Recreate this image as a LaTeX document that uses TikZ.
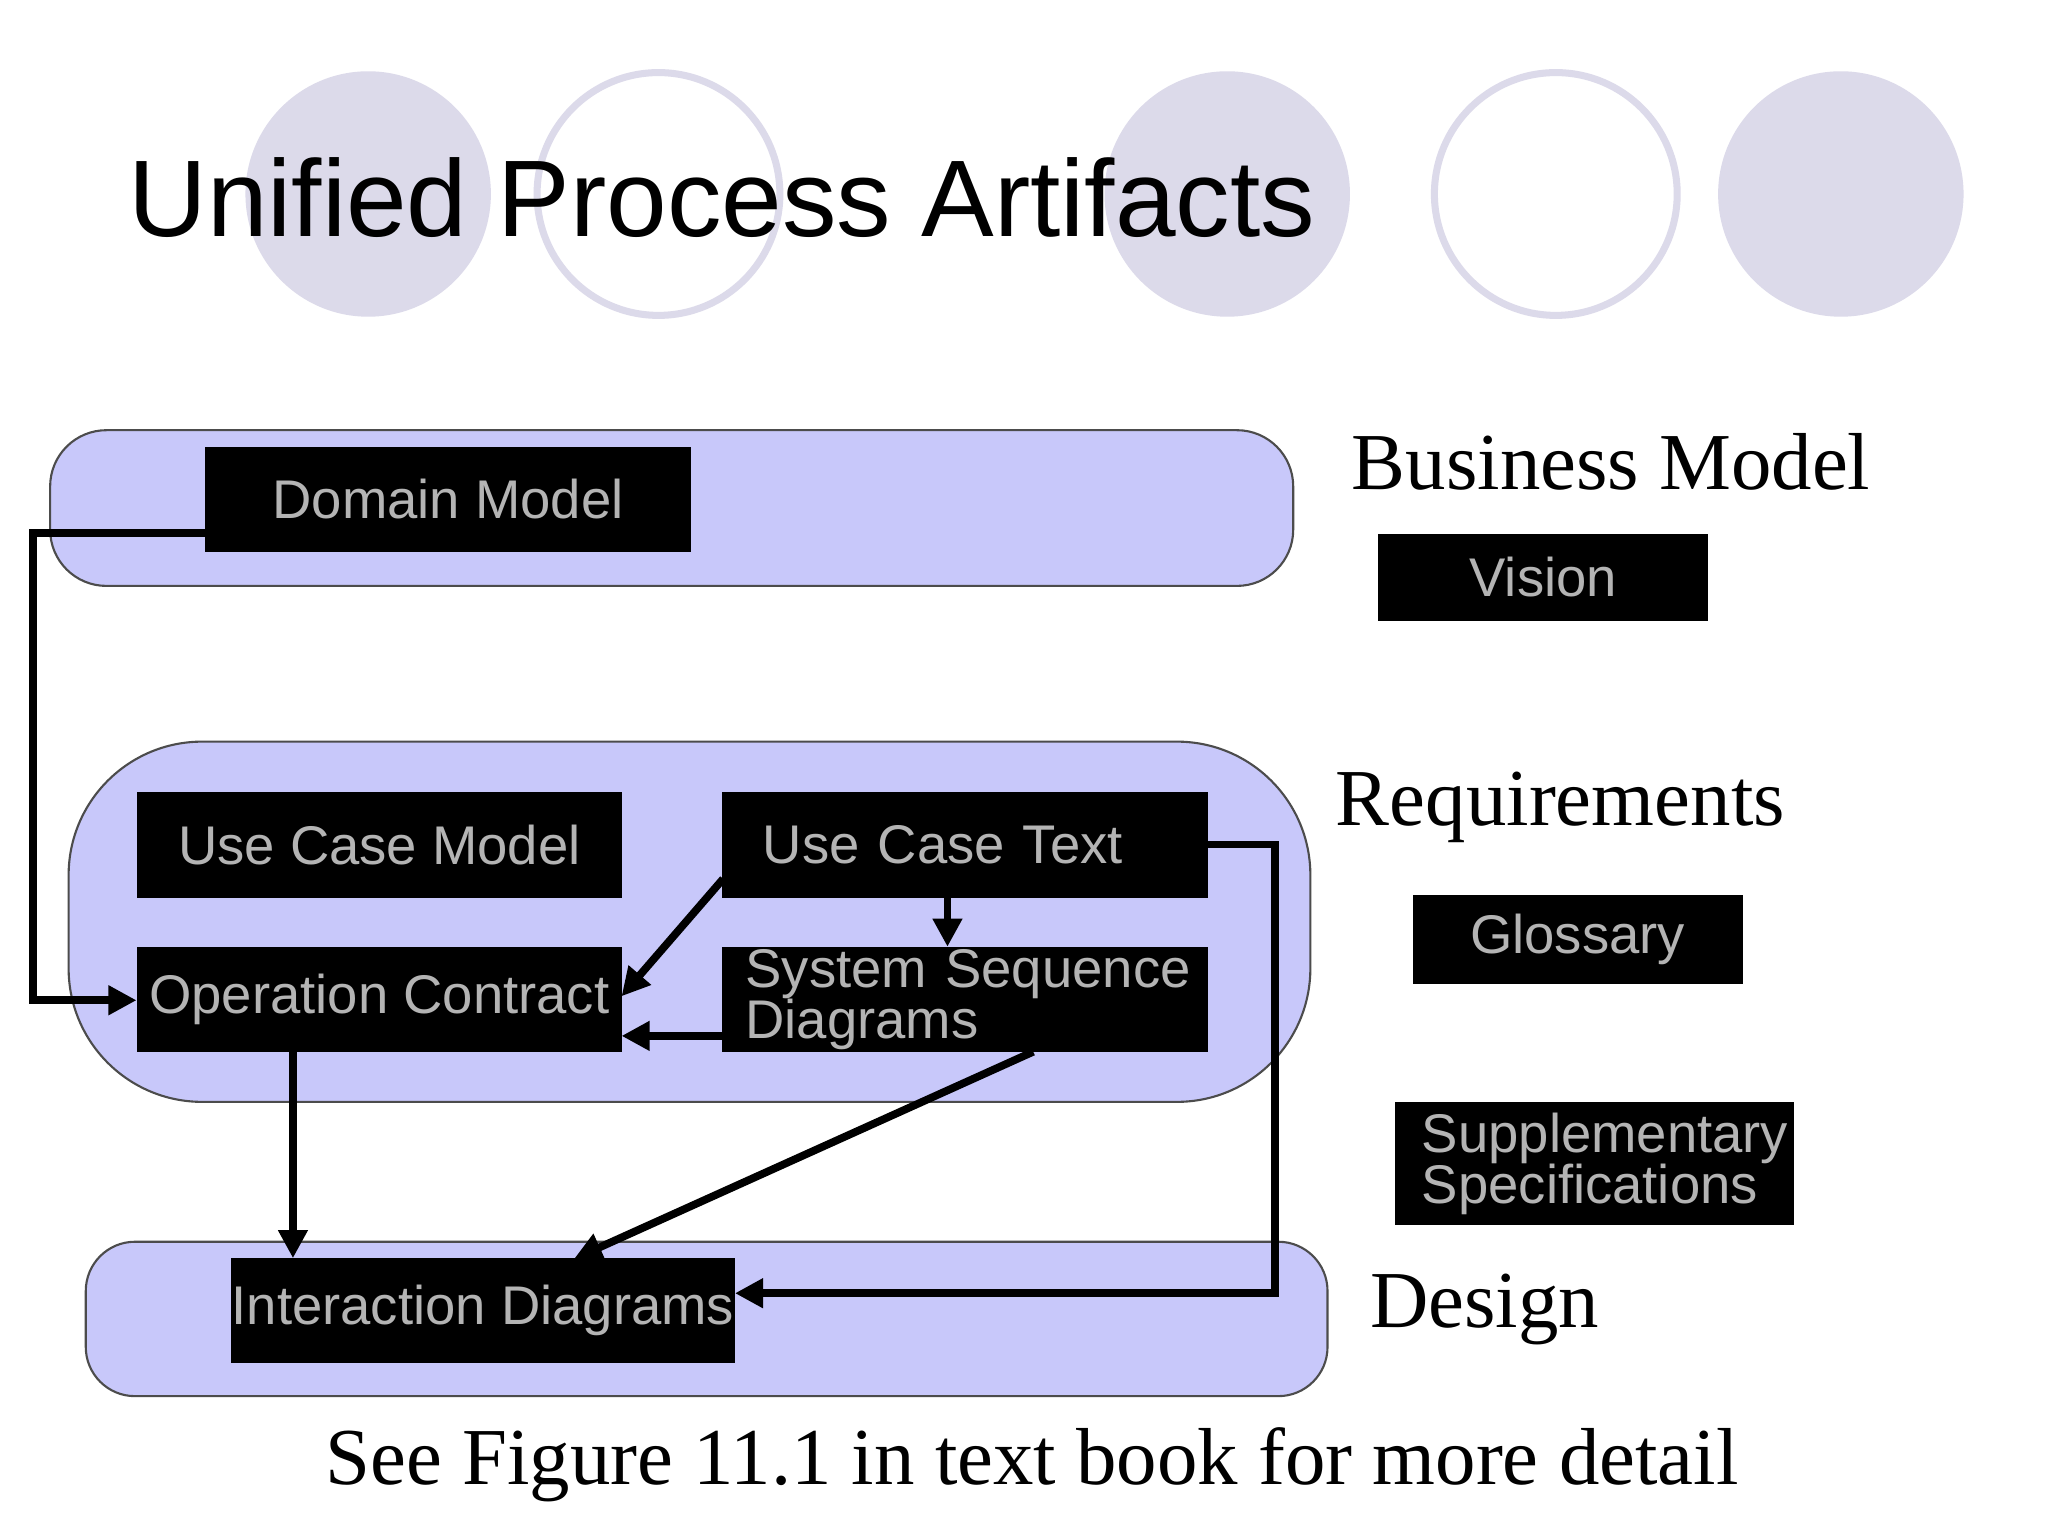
\documentclass[tikz,border=0pt]{standalone}
\usepackage{fontspec}
\setmainfont{Liberation Serif}
\newfontfamily\sans{Liberation Sans}
\usetikzlibrary{arrows.meta}
\definecolor{band}{HTML}{C8C8FA}
\definecolor{circ}{HTML}{DCDAEA}
\definecolor{boxtxt}{HTML}{B4B4B4}
\begin{document}
\begin{tikzpicture}[x=0.0132cm,y=-0.0132cm,
  bandst/.style={draw=black!70,line width=0.6pt,fill=band},
  art/.style={fill=black,draw=black,inner sep=0pt,text=boxtxt,font=\sans\fontsize{15.5}{14.5}\selectfont,align=left},
  lbl/.style={font=\fontsize{23}{26}\selectfont,anchor=west},
  conn/.style={line width=2.2pt,-{Triangle[length=8pt,width=8pt]}}]
\useasboundingbox (0,0) rectangle (1552,1164);
\fill[white] (0,0) rectangle (1552,1164);
% circles
\fill[circ] (279,147) circle (93);
\draw[circ,line width=2pt] (499,147) circle (92);
\fill[circ] (930,147) circle (93);
\draw[circ,line width=2pt] (1179,147) circle (92);
\fill[circ] (1395,147) circle (93);
\node[anchor=west,font=\sans\fontsize{31}{36}\selectfont] (title) at (88,150) {Unified Process Artifacts};
% bands
\draw[bandst,rounded corners=16] (38,326) rectangle (980,444);
\draw[bandst,rounded corners=38] (52,562) rectangle (993,835);
\draw[bandst,rounded corners=14] (65,941) rectangle (1006,1058);
% boxes
\node[art,minimum width=367*0.0132cm,minimum height=79*0.0132cm] (dm) at (339.5,378.5) {Domain Model};
\node[art,minimum width=249*0.0132cm,minimum height=65*0.0132cm] (vis) at (1169.5,437.5) {Vision};
\node[art,minimum width=367*0.0132cm,minimum height=79*0.0132cm] (ucm) at (287.5,640.5) {Use Case Model};
\node[art,minimum width=367*0.0132cm,minimum height=79*0.0132cm,text width=307*0.0132cm] (uct) at (731.5,640.5) {\mbox{Use Case Text}};
\node[art,minimum width=367*0.0132cm,minimum height=79*0.0132cm] (oc) at (287.5,757.5) {Operation Contract};
\node[art,minimum width=367*0.0132cm,minimum height=79*0.0132cm,text width=333*0.0132cm] (ssd) at (731.5,757.5) {\mbox{System Sequence}\\\mbox{Diagrams}};
\node[art,minimum width=249*0.0132cm,minimum height=66*0.0132cm] (glo) at (1195.5,712) {Glossary};
\node[art,minimum width=301*0.0132cm,minimum height=92*0.0132cm,text width=262*0.0132cm] (sup) at (1208.5,882) {\mbox{Supplementary}\\\mbox{Specifications}};
\node[art,minimum width=366*0.0132cm,minimum height=78*0.0132cm] (id) at (366,993) {Interaction Diagrams};
% labels
\node[lbl] (bm) at (1015,350) {Business Model};
\node[lbl] (req) at (1003,612) {Requirements};
\node[lbl] (des) at (1029,992) {Design};
\node[font=\fontsize{23}{26}\selectfont] (cap) at (782,1110) {See Figure 11.1 in text book for more detail};
% connectors
\coordinate (a1) at (25,404);
\coordinate (a2) at (25,758);
\draw[conn] (dm.west|-a1) -- (a1) -- (a2) -- (oc.west|-a2);
\draw[conn] (548,666) -- (471,755);
\draw[conn] (uct.south-|718,0) -- (ssd.north-|718,0);
\draw[conn] (548,785) -- (471,785);
\draw[conn] (oc.south-|222,0) -- (id.north-|222,0);
\draw[conn] (783,797) -- (435,954);
\coordinate (b1) at (966,640);
\coordinate (b2) at (966,980);
\draw[conn] (uct.east|-b1) -- (b1) -- (b2) -- (id.east|-b2);
\end{tikzpicture}
\end{document}
